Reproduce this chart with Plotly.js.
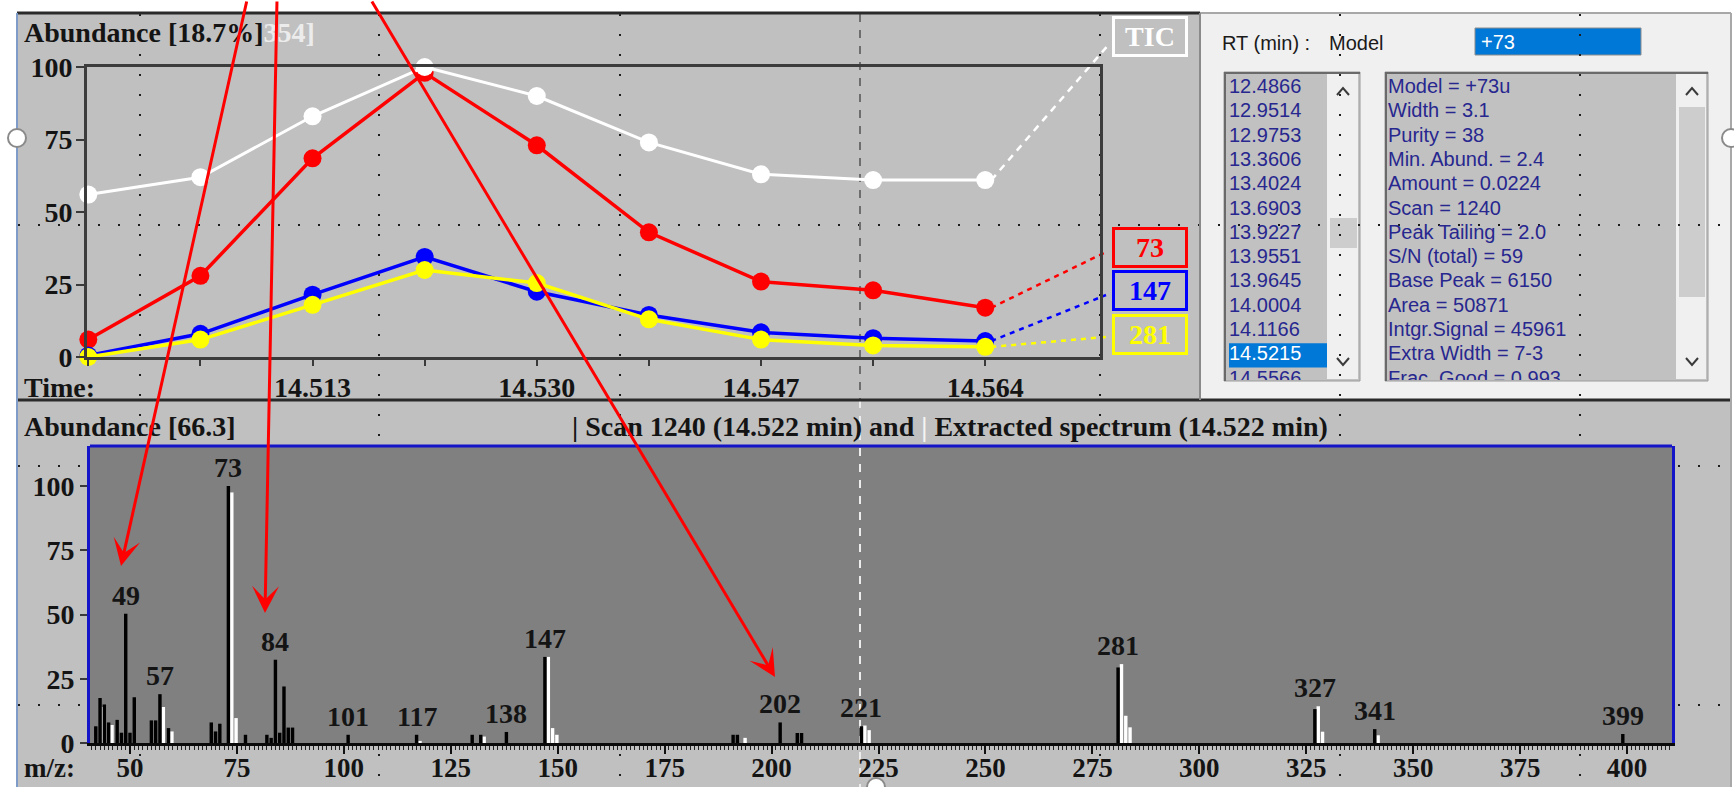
<!DOCTYPE html>
<html>
<head>
<meta charset="utf-8">
<script src="https://cdn.plot.ly/plotly-3.0.1.min.js"></script>
<style>html,body{margin:0;padding:0;background:#fff;overflow:hidden}</style>
</head>
<body>
<div id="chart" style="width:1734px;height:787px"></div>
<script>
// ---------- ion chromatogram around the selected component ----------
const scanTimes = [14.4960, 14.5045, 14.5130, 14.5215, 14.5300, 14.5385, 14.5470, 14.5555, 14.5640];
const ticAbund    = [56, 62, 83, 100, 90, 74, 63, 61, 61];
const ion73Abund  = [6, 28, 68.5, 98, 73, 43, 26, 23, 17];
const ion147Abund = [0.5, 8, 21.5, 34.5, 22.5, 14.5, 8.5, 6.5, 5.5];
const ion281Abund = [0, 6, 18, 30, 25.5, 13, 6, 4, 3.5];
const traceLabels = ['TIC', '73', '147', '281'];
const traceColors = ['#ffffff', '#ff0000', '#0000ff', '#ffff00'];
const selectedTime = 14.5215;
const timeTickText = ['', '', '14.513', '', '14.530', '', '14.547', '', '14.564'];
const abundTicks = [0, 25, 50, 75, 100];

// ---------- mass spectra: scan 1240 (black) and extracted component (white) ----------
const scanMz  = [42, 43, 44, 45, 47, 48, 49, 50, 51, 55, 56, 57, 59, 69, 70, 71, 73, 77, 82, 83, 84, 85, 86, 87, 88,
                 101, 117, 130, 132, 138, 147, 191, 192, 202, 206, 207, 221, 281, 327, 341, 399];
const scanInt = [6.5, 17.5, 15, 8, 9, 4, 50.3, 4, 17.8, 8.8, 8.8, 19, 5.8, 8, 4.5, 7.5, 100, 3.2, 3.2, 2, 32.4, 4, 22, 6, 6,
                 3.2, 3.2, 3.2, 3.2, 4.3, 33.5, 3.2, 3.2, 8, 3.9, 3.9, 6.5, 29.4, 13.2, 5.4, 3.5];
const extMz  = [43, 45, 57, 59, 73, 74, 117, 132, 147, 148, 149, 193, 221, 222, 281, 282, 283, 327, 328, 341];
const extInt = [14, 7, 14, 4.5, 97.5, 9.7, 0.8, 2.5, 33.5, 5.8, 3.2, 2, 6.8, 5, 30.7, 10.6, 6.1, 14.3, 4.4, 3];
const labelledMz = [49, 57, 73, 84, 101, 117, 138, 147, 202, 221, 281, 327, 341, 399];
const mzTicks = [50, 75, 100, 125, 150, 175, 200, 225, 250, 275, 300, 325, 350, 375, 400];

// ---------- component lists ----------
const rtList = ['12.4866', '12.9514', '12.9753', '13.3606', '13.4024', '13.6903', '13.9227', '13.9551',
                '13.9645', '14.0004', '14.1166', '14.5215', '14.5566'];
const selectedRt = '14.5215';
const modelInfo = ['Model = +73u', 'Width = 3.1', 'Purity = 38', 'Min. Abund. = 2.4', 'Amount = 0.0224',
                   'Scan = 1240', 'Peak Tailing = 2.0', 'S/N (total) = 59', 'Base Peak = 6150', 'Area = 50871',
                   'Intgr.Signal = 45961', 'Extra Width = 7-3', 'Frac. Good = 0.993'];
const modelChoice = '+73';

// ---------- page geometry helpers ----------
const W = 1734, H = 787;
const fx = x => x / W;
const fy = y => 1 - y / H;
const SERIF = 'Liberation Serif, Times New Roman, serif';
const SANS = 'Liberation Sans, Arial, sans-serif';
const bold = (size, color) => ({family: SERIF, size: size, color: color, weight: 'bold'});
const INK = '#141414';
const LISTINK = '#27278f';

const chromBox = {x0: 87, x1: 1100, y0: 67, y1: 357};
const specBox  = {x0: 90, x1: 1672, y0: 446, y1: 743};
const rowTop = 88, rowStep = 24.3;
const listTop = 74, listBottom = 380;
const rowAt = y => (y - rowTop) / rowStep;

// ---------- traces ----------
const series = [ticAbund, ion73Abund, ion147Abund, ion281Abund];
const drawOrder = [1, 2, 3, 0];
const traces = [];
drawOrder.forEach(i => {
  traces.push({
    type: 'scatter', mode: 'lines+markers', x: scanTimes, y: series[i], xaxis: 'x', yaxis: 'y',
    line: {color: traceColors[i], width: i === 0 ? 3 : 3.5},
    marker: {color: traceColors[i], size: 18},
    cliponaxis: false, hoverinfo: 'skip', showlegend: false
  });
});
traces.push({
  type: 'scatter', mode: 'markers', x: [selectedTime], y: [-4], xaxis: 'x', yaxis: 'y',
  marker: {symbol: 'triangle-up', size: 11, color: '#ff0000'}, cliponaxis: false, hoverinfo: 'skip', showlegend: false
});
traces.push({
  type: 'bar', x: extMz, y: extInt, xaxis: 'x2', yaxis: 'y2', width: 0.8, offset: 0.4,
  marker: {color: '#ffffff', line: {width: 0}}, hoverinfo: 'skip', showlegend: false
});
traces.push({
  type: 'bar', x: scanMz, y: scanInt, xaxis: 'x2', yaxis: 'y2', width: 0.8, offset: -0.4,
  marker: {color: '#000000', line: {width: 0}}, hoverinfo: 'skip', showlegend: false
});
traces.push({
  type: 'scatter', mode: 'text', x: rtList.map(() => 0), y: rtList.map((_, i) => i), text: rtList,
  xaxis: 'x3', yaxis: 'y3', textposition: 'middle right',
  textfont: {family: SANS, size: 20, color: rtList.map(t => t === selectedRt ? '#ffffff' : LISTINK)},
  cliponaxis: true, hoverinfo: 'skip', showlegend: false
});
traces.push({
  type: 'scatter', mode: 'text', x: modelInfo.map(() => 0), y: modelInfo.map((_, i) => i), text: modelInfo,
  xaxis: 'x4', yaxis: 'y4', textposition: 'middle right',
  textfont: {family: SANS, size: 20, color: LISTINK},
  cliponaxis: true, hoverinfo: 'skip', showlegend: false
});

// ---------- shapes ----------
const rect = (x0, y0, x1, y1, fill, line) => ({type: 'rect', xref: 'paper', yref: 'paper',
  x0: fx(x0), x1: fx(x1), y0: fy(y1), y1: fy(y0), fillcolor: fill, line: line || {width: 0}, layer: 'below'});
const seg = (x0, y0, x1, y1, color, width, dash, layer) => ({type: 'line', xref: 'paper', yref: 'paper',
  x0: fx(x0), y0: fy(y0), x1: fx(x1), y1: fy(y1), line: {color: color, width: width, dash: dash || 'solid'}, layer: layer || 'below'});
const poly = (pts, color, width) => ({type: 'path', xref: 'paper', yref: 'paper', layer: 'above',
  path: pts.map((p, i) => (i ? 'L' : 'M') + fx(p[0]).toFixed(5) + ',' + fy(p[1]).toFixed(5)).join(' '),
  line: {color: color, width: width}});
const chevronUp = (cx, cy) => poly([[cx - 6, cy + 4], [cx, cy - 3], [cx + 6, cy + 4]], '#3a3a3a', 2);
const chevronDown = (cx, cy) => poly([[cx - 6, cy - 4], [cx, cy + 3], [cx + 6, cy - 4]], '#3a3a3a', 2);

const baseShapes = [
  rect(17, 13, 1200, 400, '#c0c0c0'),
  rect(17, 400, 1731, 787, '#c0c0c0'),
  rect(1200, 13, 1731, 400, '#f0f0f0'),
  // model field
  rect(1475, 28, 1641, 55, '#0078d7', {color: '#8c8c8c', width: 1}),
  // retention time list
  rect(1224, 72, 1360, 381, '#c1c1c1', {color: '#9a9a9a', width: 1}),
  rect(1327, 74, 1358, 379, '#f0f0f0'),
  rect(1330, 218, 1357, 248, '#cdcdcd'),
  seg(1224, 73, 1360, 73, '#6a6a6a', 2), seg(1225, 72, 1225, 381, '#6a6a6a', 2),
  // model information list
  rect(1385, 72, 1708, 381, '#c1c1c1', {color: '#9a9a9a', width: 1}),
  rect(1676, 74, 1706, 379, '#f0f0f0'),
  rect(1679, 107, 1705, 297, '#cdcdcd'),
  seg(1385, 73, 1708, 73, '#6a6a6a', 2), seg(1386, 72, 1386, 381, '#6a6a6a', 2)
];
// snapping grid of dotted guides over the window
[140, 379, 620, 1100, 1340, 1580].forEach(x => baseShapes.push(seg(x, 14, x, 787, '#1e1e1e', 2, '2px,18px')));
[225, 466, 705].forEach(y => baseShapes.push(seg(18, y, 1730, y, '#1e1e1e', 2, '2px,18px')));
baseShapes.push(
  rect(specBox.x0, specBox.y0, specBox.x1, specBox.y1, '#808080'),
  seg(860, 14, 860, 400, '#6e6e6e', 2, '8px,8px'),
  seg(860, 400, 860, 787, '#ececec', 2, '8px,8px'),
  seg(specBox.x0, specBox.y0, specBox.x1, specBox.y0, '#1414c8', 3),
  seg(17, 13, 1200, 13, '#2a2a2a', 3),
  seg(1200, 13, 1731, 13, '#a8a8a8', 2),
  seg(17, 400, 1731, 400, '#2a2a2a', 3),
  seg(1200, 13, 1200, 400, '#8a8a8a', 2),
  seg(17, 13, 17, 787, '#7f9cc8', 2),
  seg(1731, 13, 1731, 787, '#a8a8a8', 2),
  chevronUp(1343, 91), chevronDown(1343, 362),
  chevronUp(1692, 91), chevronDown(1692, 362)
);
// highlighted row in the retention time list
baseShapes.push({type: 'rect', xref: 'x3 domain', yref: 'y3', x0: 0, x1: 1,
  y0: rtList.indexOf(selectedRt) - 0.5, y1: rtList.indexOf(selectedRt) + 0.5,
  fillcolor: '#0078d7', line: {width: 0}, layer: 'below'});
// window handles
[[17, 138], [1731, 138], [876, 787]].forEach(c => baseShapes.push({type: 'circle', xref: 'paper', yref: 'paper',
  x0: fx(c[0] - 9), x1: fx(c[0] + 9), y0: fy(c[1] + 9), y1: fy(c[1] - 9),
  fillcolor: '#ffffff', line: {color: '#8a8a8a', width: 2}, layer: 'above'}));

// ---------- annotations ----------
const annotations = [];
const note = (text, x, y, font, xanchor) => annotations.push({text: text, xref: 'paper', yref: 'paper',
  x: fx(x), y: fy(y), xanchor: xanchor || 'left', yanchor: 'middle', showarrow: false, font: font});
note('Abundance [18.7%]<span style="color:#ececec">354]</span>', 22, 33, bold(28, INK));
note('Time:', 22, 387, bold(28, INK));
note('Abundance [66.3]', 22, 427, bold(28, INK));
note('| Scan 1240 (14.522 min) and <span style="color:#f4f4f4">|</span> Extracted spectrum (14.522 min)', 570, 427, bold(28, INK));
note('m/z:', 22, 768, bold(27, INK));
note('RT (min) :', 1220, 43, {family: SANS, size: 20, color: '#1a1a1a'});
note('Model', 1327, 43, {family: SANS, size: 20, color: '#1a1a1a'});
note(modelChoice, 1479, 42, {family: SANS, size: 20, color: '#ffffff'});

// trace name boxes to the right of the chromatogram
const boxCenters = [[1150, 37], [1150, 247], [1150, 291], [1150, 334]];
traceLabels.forEach((name, i) => annotations.push({
  text: name, xref: 'paper', yref: 'paper', x: fx(boxCenters[i][0]), y: fy(boxCenters[i][1]),
  xanchor: 'center', yanchor: 'middle', showarrow: false, width: 68, height: 33,
  bgcolor: '#c0c0c0', bordercolor: traceColors[i], borderwidth: 3, borderpad: 1,
  font: bold(28, traceColors[i])
}));

// peak labels
const heightAt = mz => Math.max(scanInt[scanMz.indexOf(mz)] || 0, extInt[extMz.indexOf(mz)] || 0);
labelledMz.forEach(mz => annotations.push({
  text: String(mz), xref: 'x2', yref: 'y2', x: mz, y: heightAt(mz), xanchor: 'center', yanchor: 'bottom',
  yshift: 1, showarrow: false, font: bold(28, INK)
}));

// red pointers onto three peaks
const pointerTips = [[121, 566], [265, 613], [775, 677]];
const pointerTails = [[247, 0], [277, 0], [371, 0]];
pointerTips.forEach((tip, i) => annotations.push({
  text: '', xref: 'paper', yref: 'paper', x: fx(tip[0]), y: fy(tip[1]),
  ax: pointerTails[i][0] - tip[0], ay: pointerTails[i][1] - tip[1], axref: 'pixel', ayref: 'pixel',
  showarrow: true, arrowhead: 3, arrowsize: 1.5, arrowwidth: 3, arrowcolor: '#ff0000', standoff: 0
}));

// ---------- axes ----------
const axisFont = bold(28, INK);
const layout = {
  width: W, height: H, autosize: false,
  margin: {l: 0, r: 0, t: 0, b: 0, pad: 0},
  paper_bgcolor: '#ffffff', plot_bgcolor: 'rgba(0,0,0,0)',
  showlegend: false, hovermode: false, barmode: 'overlay',
  xaxis: {
    domain: [fx(chromBox.x0), fx(chromBox.x1)], range: [14.4959, 14.5727], anchor: 'y',
    tickmode: 'array', tickvals: scanTimes, ticktext: timeTickText,
    ticks: 'outside', ticklen: 6, tickwidth: 2, tickcolor: '#3a3a3a', ticklabelstandoff: -3,
    tickfont: axisFont, showgrid: false, zeroline: false,
    showline: true, linecolor: '#3c3c3c', linewidth: 3, mirror: true, fixedrange: true
  },
  yaxis: {
    domain: [fy(chromBox.y1), fy(chromBox.y0)], range: [0, 100], anchor: 'x',
    tickmode: 'array', tickvals: abundTicks,
    ticks: 'outside', ticklen: 8, tickwidth: 2, tickcolor: '#3a3a3a', ticklabelstandoff: -2,
    tickfont: axisFont, showgrid: false, zeroline: false,
    showline: true, linecolor: '#3c3c3c', linewidth: 3, mirror: true, fixedrange: true
  },
  xaxis2: {
    domain: [fx(specBox.x0), fx(specBox.x1)], range: [40.65, 410.5], anchor: 'y2',
    tickmode: 'array', tickvals: mzTicks,
    ticks: 'outside', ticklen: 8, tickwidth: 2, tickcolor: '#111111', ticklabelstandoff: -9,
    minor: {dtick: 1, tick0: 0, ticks: 'outside', ticklen: 4, tickwidth: 1, tickcolor: '#222222'},
    tickfont: bold(27, INK), showgrid: false, zeroline: false,
    showline: true, linecolor: '#0a0a0a', linewidth: 3, mirror: false, fixedrange: true
  },
  yaxis2: {
    domain: [fy(specBox.y1), fy(specBox.y0)], range: [0, (specBox.y1 - specBox.y0) / 2.57], anchor: 'x2',
    tickmode: 'array', tickvals: abundTicks,
    ticks: 'outside', ticklen: 7, tickwidth: 2, tickcolor: '#3a3a3a', ticklabelstandoff: 0,
    tickfont: axisFont, showgrid: false, zeroline: false,
    showline: true, linecolor: '#1414c8', linewidth: 3, mirror: true, fixedrange: true
  },
  xaxis3: {domain: [fx(1229), fx(1327)], range: [0, 1], anchor: 'y3', visible: false, fixedrange: true},
  yaxis3: {domain: [fy(listBottom), fy(listTop)], range: [rowAt(listBottom), rowAt(listTop)], anchor: 'x3', visible: false, fixedrange: true},
  xaxis4: {domain: [fx(1388), fx(1676)], range: [0, 1], anchor: 'y4', visible: false, fixedrange: true},
  yaxis4: {domain: [fy(listBottom), fy(listTop)], range: [rowAt(listBottom), rowAt(listTop)], anchor: 'x4', visible: false, fixedrange: true},
  shapes: baseShapes,
  annotations: annotations
};

// dotted leaders from each trace's last scan to its name box
const leaderEnds = [[1110, 43], [1106, 252], [1106, 295], [1106, 337]];
const leaderDash = ['7px,6px', '5px,5px', '5px,5px', '5px,5px'];

Plotly.newPlot('chart', traces, layout, {displayModeBar: false, staticPlot: true}).then(gd => {
  const xa = gd._fullLayout.xaxis, ya = gd._fullLayout.yaxis;
  const last = scanTimes.length - 1;
  const leaders = series.map((s, i) => {
    const sx = xa._offset + xa.d2p(scanTimes[last]);
    const sy = ya._offset + ya.d2p(s[last]);
    return seg(sx + 6, sy, leaderEnds[i][0], leaderEnds[i][1], traceColors[i], 2.5, leaderDash[i]);
  });
  return Plotly.relayout(gd, {shapes: baseShapes.concat(leaders)});
});
</script>
</body>
</html>
